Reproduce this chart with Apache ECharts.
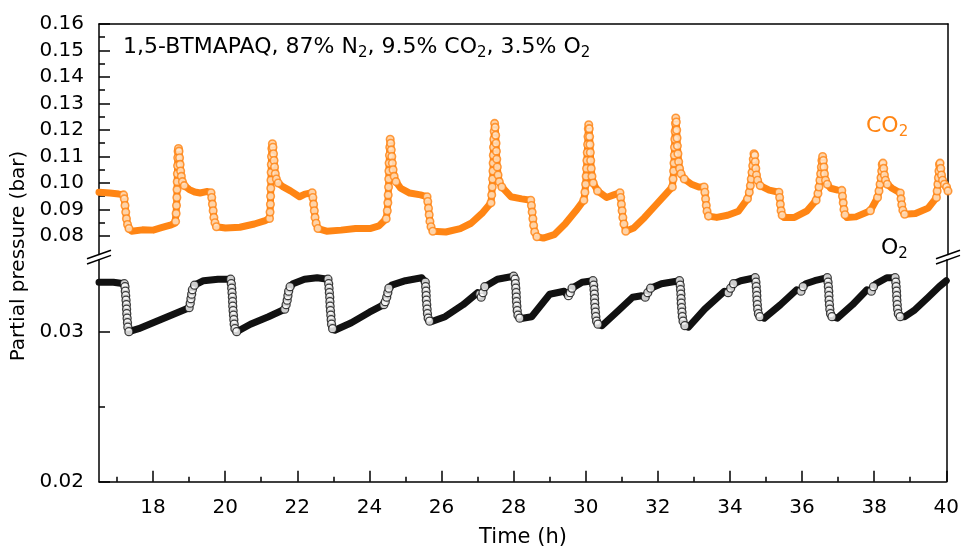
<!DOCTYPE html>
<html><head><meta charset="utf-8">
<script src="https://cdn.jsdelivr.net/npm/echarts@6/dist/echarts.min.js"></script>
<style>html,body{margin:0;padding:0;background:#fff}#c{width:962px;height:549px}</style>
</head><body><div id="c"></div>
<script>
const co2Data = [
[16.5,0.0965],[16.8,0.0962],[17.05,0.0958],[17.18,0.0955],
[17.2,0.094],[17.22,0.0915],[17.24,0.089],[17.26,0.0865],[17.29,0.0843],[17.33,0.0828],[17.4,0.0818],
[17.7,0.0823],[18.0,0.0822],[18.25,0.0832],[18.5,0.0842],[18.6,0.0848],
[18.62,0.0855],[18.635,0.0885],[18.645,0.0915],[18.655,0.0945],[18.66,0.0975],[18.665,0.1005],[18.67,0.1035],[18.675,0.1065],[18.68,0.1095],[18.69,0.112],[18.70,0.113],
[18.715,0.112],[18.73,0.1095],[18.745,0.107],[18.76,0.1045],[18.78,0.1025],[18.81,0.1005],[18.86,0.099],[19.0,0.0975],[19.15,0.0966],[19.3,0.0962],[19.5,0.0968],[19.6,0.0963],
[19.62,0.0945],[19.64,0.092],[19.66,0.0895],[19.68,0.087],[19.71,0.085],[19.75,0.0835],
[20.0,0.083],[20.4,0.0833],[20.8,0.0845],[21.1,0.0858],[21.22,0.0866],
[21.235,0.089],[21.245,0.092],[21.25,0.095],[21.255,0.098],[21.26,0.101],[21.265,0.104],[21.27,0.107],[21.275,0.11],[21.285,0.113],[21.3,0.1148],
[21.315,0.1135],[21.33,0.111],[21.345,0.1085],[21.36,0.106],[21.38,0.1035],[21.41,0.1015],[21.46,0.1],[21.6,0.0985],[21.8,0.097],[22.05,0.0948],[22.2,0.0958],[22.4,0.0963],
[22.42,0.0945],[22.44,0.092],[22.46,0.0895],[22.48,0.087],[22.51,0.0848],[22.56,0.0828],
[22.8,0.0818],[23.2,0.0822],[23.6,0.0828],[24.0,0.0828],[24.25,0.0838],[24.45,0.0865],
[24.48,0.0895],[24.495,0.0925],[24.505,0.0955],[24.515,0.0985],[24.52,0.1015],[24.525,0.1045],[24.53,0.1075],[24.54,0.1105],[24.548,0.1135],[24.56,0.1165],
[24.575,0.115],[24.59,0.1125],[24.605,0.11],[24.62,0.1075],[24.64,0.105],[24.67,0.1025],[24.72,0.1005],[24.85,0.098],[25.1,0.0962],[25.4,0.0955],[25.58,0.0948],
[25.6,0.093],[25.62,0.0905],[25.64,0.088],[25.66,0.0855],[25.69,0.0835],[25.74,0.0818],
[26.1,0.0815],[26.5,0.0828],[26.8,0.0848],[27.1,0.0885],[27.35,0.0925],
[27.37,0.0955],[27.385,0.0985],[27.395,0.1015],[27.405,0.1045],[27.41,0.1075],[27.415,0.1105],[27.42,0.1135],[27.43,0.1165],[27.44,0.1195],[27.45,0.1225],
[27.465,0.121],[27.48,0.118],[27.49,0.115],[27.5,0.112],[27.51,0.109],[27.525,0.106],[27.545,0.103],[27.58,0.1005],[27.65,0.0985],[27.9,0.0948],[28.2,0.094],[28.45,0.0935],
[28.47,0.0915],[28.49,0.089],[28.51,0.0865],[28.53,0.084],[28.56,0.0815],[28.62,0.0797],
[28.8,0.0792],[29.1,0.0805],[29.4,0.0845],[29.7,0.0895],[29.92,0.0935],
[29.95,0.0965],[29.97,0.0995],[29.985,0.1025],[29.995,0.1055],[30.005,0.1085],[30.015,0.1115],[30.025,0.1145],[30.035,0.1175],[30.045,0.1205],[30.055,0.122],
[30.07,0.1205],[30.08,0.1175],[30.09,0.1145],[30.1,0.1115],[30.11,0.1085],[30.125,0.1055],[30.145,0.1025],[30.18,0.1],[30.3,0.097],[30.55,0.0945],[30.75,0.0955],[30.92,0.0963],
[30.94,0.0945],[30.96,0.092],[30.98,0.0895],[31.0,0.087],[31.03,0.0845],[31.08,0.0818],
[31.3,0.083],[31.6,0.087],[31.9,0.0915],[32.2,0.096],[32.37,0.0985],
[32.39,0.1015],[32.405,0.1045],[32.415,0.1075],[32.425,0.1105],[32.43,0.1135],[32.44,0.1165],[32.448,0.1195],[32.455,0.1225],[32.465,0.1245],
[32.48,0.123],[32.49,0.12],[32.5,0.117],[32.51,0.114],[32.525,0.111],[32.545,0.108],[32.57,0.1055],[32.61,0.1035],[32.7,0.1015],[32.9,0.0995],[33.1,0.0985],[33.25,0.0985],
[33.27,0.0965],[33.29,0.094],[33.31,0.0915],[33.33,0.0893],[33.37,0.0875],
[33.6,0.087],[33.9,0.0878],[34.2,0.0893],[34.45,0.094],
[34.5,0.0965],[34.53,0.099],[34.555,0.1015],[34.575,0.104],[34.595,0.1065],[34.61,0.109],[34.63,0.111],
[34.65,0.1105],[34.665,0.108],[34.68,0.1055],[34.7,0.103],[34.73,0.101],[34.8,0.099],[35.05,0.0973],[35.32,0.0965],
[35.34,0.0945],[35.36,0.092],[35.38,0.0895],[35.41,0.0878],[35.46,0.087],
[35.75,0.087],[36.1,0.0895],[36.35,0.0935],
[36.4,0.096],[36.43,0.0985],[36.455,0.101],[36.475,0.1035],[36.495,0.106],[36.51,0.1085],[36.53,0.11],
[36.55,0.1085],[36.565,0.106],[36.58,0.1035],[36.61,0.101],[36.66,0.0995],[36.75,0.098],[36.95,0.0973],[37.06,0.0972],
[37.08,0.095],[37.1,0.0925],[37.12,0.09],[37.15,0.088],[37.2,0.087],
[37.45,0.0872],[37.85,0.0895],[38.05,0.0945],
[38.09,0.097],[38.12,0.0995],[38.145,0.102],[38.165,0.1045],[38.18,0.107],[38.2,0.1075],
[38.22,0.1055],[38.24,0.103],[38.27,0.101],[38.32,0.0995],[38.45,0.098],[38.68,0.0962],
[38.7,0.094],[38.72,0.0918],[38.75,0.0897],[38.8,0.0882],
[39.1,0.0885],[39.45,0.0905],[39.68,0.0945],
[39.7,0.097],[39.72,0.0995],[39.735,0.102],[39.75,0.1045],[39.765,0.107],[39.78,0.1075],
[39.8,0.1055],[39.82,0.103],[39.85,0.101],[39.9,0.0995],[39.96,0.0985],[40.0,0.097]
];
const o2Data = [
[16.5,0.0333],[16.9,0.0333],[17.2,0.0332],
[17.22,0.0330],[17.23,0.0327],[17.24,0.0324],[17.25,0.0321],[17.26,0.0318],[17.265,0.0315],[17.27,0.0312],[17.28,0.0309],[17.29,0.0306],[17.3,0.0303],[17.33,0.0300],[17.38,0.0299],
[17.6,0.0302],[18.0,0.0306],[18.5,0.0311],[19.0,0.0316],
[19.03,0.0319],[19.05,0.0322],[19.07,0.0325],[19.09,0.0328],[19.15,0.0331],[19.4,0.0334],[19.8,0.0335],[20.15,0.0335],
[20.17,0.0332],[20.18,0.0329],[20.19,0.0326],[20.2,0.0323],[20.205,0.0320],[20.21,0.0317],[20.22,0.0314],[20.23,0.0311],[20.24,0.0308],[20.25,0.0305],[20.27,0.0302],[20.32,0.0300],
[20.7,0.0305],[21.2,0.0310],[21.65,0.0315],
[21.69,0.0318],[21.72,0.0321],[21.74,0.0324],[21.76,0.0327],[21.8,0.0330],[21.88,0.0332],[22.2,0.0335],[22.55,0.0336],[22.85,0.0335],
[22.87,0.0332],[22.88,0.0329],[22.89,0.0326],[22.9,0.0323],[22.905,0.0320],[22.91,0.0317],[22.92,0.0314],[22.93,0.0311],[22.94,0.0308],[22.95,0.0305],[22.98,0.0302],[23.04,0.0301],
[23.5,0.0306],[24.0,0.0313],[24.4,0.0318],
[24.44,0.0320],[24.48,0.0323],[24.51,0.0326],[24.54,0.0329],[24.62,0.0331],[25.0,0.0334],[25.45,0.0336],
[25.55,0.0333],[25.56,0.0330],[25.57,0.0327],[25.575,0.0324],[25.58,0.0321],[25.59,0.0318],[25.6,0.0315],[25.61,0.0312],[25.63,0.0309],[25.67,0.0307],[25.75,0.0307],
[26.1,0.0310],[26.6,0.0318],[27.0,0.0326],
[27.06,0.0325],[27.1,0.0323],[27.15,0.0326],[27.2,0.0330],[27.55,0.0335],[28.0,0.0337],
[28.04,0.0335],[28.05,0.0332],[28.06,0.0329],[28.07,0.0326],[28.075,0.0323],[28.08,0.0320],[28.09,0.0317],[28.1,0.0314],[28.12,0.0311],[28.17,0.0309],[28.25,0.0309],
[28.5,0.0310],[29.0,0.0325],[29.4,0.0327],
[29.47,0.0325],[29.52,0.0324],[29.57,0.0326],[29.62,0.0329],[29.9,0.0333],[30.2,0.0334],
[30.22,0.0331],[30.23,0.0328],[30.24,0.0325],[30.245,0.0322],[30.25,0.0319],[30.26,0.0316],[30.27,0.0313],[30.28,0.0310],[30.3,0.0307],[30.34,0.0305],[30.45,0.0304],
[30.9,0.0314],[31.3,0.0323],
[31.55,0.0324],[31.65,0.0323],[31.72,0.0326],[31.8,0.0329],[32.1,0.0332],[32.6,0.0334],
[32.62,0.0331],[32.63,0.0328],[32.64,0.0325],[32.645,0.0322],[32.65,0.0319],[32.66,0.0316],[32.67,0.0313],[32.68,0.0310],[32.7,0.0307],[32.75,0.0304],[32.85,0.0303],
[33.3,0.0315],[33.85,0.0327],
[33.95,0.0326],[34.02,0.0329],[34.1,0.0332],[34.3,0.0334],[34.7,0.0336],
[34.72,0.0333],[34.73,0.0330],[34.74,0.0327],[34.745,0.0324],[34.75,0.0321],[34.76,0.0318],[34.77,0.0315],[34.79,0.0312],[34.83,0.0310],[34.95,0.0309],
[35.4,0.0318],[35.85,0.0328],
[35.97,0.0327],[36.03,0.0330],[36.1,0.0332],[36.35,0.0334],[36.7,0.0336],
[36.72,0.0333],[36.73,0.0330],[36.74,0.0327],[36.745,0.0324],[36.75,0.0321],[36.76,0.0318],[36.77,0.0315],[36.79,0.0312],[36.83,0.0310],[36.98,0.0309],
[37.4,0.0318],[37.8,0.0328],
[37.92,0.0327],[37.98,0.0330],[38.05,0.0332],[38.35,0.0336],[38.58,0.0336],
[38.6,0.0333],[38.61,0.0330],[38.62,0.0327],[38.625,0.0324],[38.63,0.0321],[38.64,0.0318],[38.65,0.0315],[38.67,0.0312],[38.72,0.0310],[38.85,0.0310],
[39.1,0.0314],[39.5,0.0323],[39.8,0.0330],[40.0,0.0334]
];
const xMajorTicks = [18,20,22,24,26,28,30,32,34,36,38,40];
const xMinorTicks = [17,19,21,23,25,27,29,31,33,35,37,39];
const upperMajorTicks = [0.08,0.09,0.10,0.11,0.12,0.13,0.14,0.15,0.16];
const upperMinorTicks = [0.085,0.095,0.105,0.115,0.125,0.135,0.145,0.155];
const lowerMajorTicks = [0.02,0.03];
const lowerMinorTicks = [0.025];

const FONT = 'DejaVu Sans';
const ORANGE = '#ff8514';
const BLACK = '#000';
const lineS = {color: BLACK, width: 1.5};

function yAx(grid, min, max, ticks, len, labels, pos) {
  return {
    type: 'value', gridIndex: grid, min: min, max: max, position: pos || 'left',
    splitLine: {show: false},
    axisLine: {show: !!labels || pos === 'right', onZero: false, lineStyle: lineS},
    axisTick: ticks ? {show: true, inside: true, length: len, customValues: ticks, lineStyle: lineS} : {show: false},
    axisLabel: labels ? {show: true, customValues: labels, formatter: v => v.toFixed(2), fontSize: 20, fontFamily: FONT, color: BLACK, margin: 15} : {show: false}
  };
}

const chart = echarts.init(document.getElementById('c'));
const subStyle = (c) => ({s: {fontSize: 15, lineHeight: 15, verticalAlign: 'bottom', fontFamily: FONT, fill: c}});
const option = {
  animation: false,
  backgroundColor: '#fff',
  grid: [
    {left: 99, right: 14, top: 24, height: 230.5},
    {left: 99, right: 14, top: 259.7, height: 222}
  ],
  xAxis: [
    {type: 'value', gridIndex: 0, min: 16.5, max: 40, position: 'top', splitLine: {show: false},
     axisLine: {show: true, onZero: false, lineStyle: lineS}, axisTick: {show: false}, axisLabel: {show: false}},
    {type: 'value', gridIndex: 1, min: 16.5, max: 40, position: 'bottom', splitLine: {show: false},
     axisLine: {show: true, onZero: false, lineStyle: lineS},
     axisTick: {show: true, inside: true, length: 11, customValues: xMajorTicks, lineStyle: lineS},
     axisLabel: {show: true, customValues: xMajorTicks, fontSize: 20, fontFamily: FONT, color: BLACK, margin: 16}},
    {type: 'value', gridIndex: 1, min: 16.5, max: 40, position: 'bottom', splitLine: {show: false},
     axisLine: {show: false}, axisTick: {show: true, inside: true, length: 5, customValues: xMinorTicks, lineStyle: lineS},
     axisLabel: {show: false}}
  ],
  yAxis: [
    yAx(0, 0.073, 0.16, upperMajorTicks, 11, upperMajorTicks),
    yAx(0, 0.073, 0.16, upperMinorTicks, 6, null),
    yAx(0, 0.073, 0.16, null, 0, null, 'right'),
    yAx(1, 0.02, 0.0348, lowerMajorTicks, 11, lowerMajorTicks),
    yAx(1, 0.02, 0.0348, lowerMinorTicks, 6, null),
    yAx(1, 0.02, 0.0348, null, 0, null, 'right')
  ],
  series: [
    {id: 'co2line', type: 'line', xAxisIndex: 0, yAxisIndex: 0, data: co2Data, showSymbol: false, symbol: 'none',
     lineStyle: {color: ORANGE, width: 7, cap: 'round', join: 'round'}, z: 2},
    {id: 'co2pts', type: 'scatter', xAxisIndex: 0, yAxisIndex: 0, data: [], symbol: 'circle', symbolSize: 7.5,
     itemStyle: {color: '#ffe6cc', borderColor: ORANGE, borderWidth: 1.6}, z: 3},
    {id: 'o2line', type: 'line', xAxisIndex: 1, yAxisIndex: 3, data: o2Data, showSymbol: false, symbol: 'none',
     lineStyle: {color: '#111', width: 7, cap: 'round', join: 'round'}, z: 2},
    {id: 'o2pts', type: 'scatter', xAxisIndex: 1, yAxisIndex: 3, data: [], symbol: 'circle', symbolSize: 8,
     itemStyle: {color: '#fff', borderColor: '#111', borderWidth: 1.3}, z: 3}
  ],
  graphic: [
    {type: 'text', x: 123, y: 47, style: {
      text: '1,5-BTMAPAQ, 87% N{s|2}, 9.5% CO{s|2}, 3.5% O{s|2}',
      fontSize: 22, fontFamily: FONT, fill: BLACK, lineHeight: 28, verticalAlign: 'middle', align: 'left',
      rich: subStyle(BLACK)}},
    {type: 'text', x: 866, y: 126, style: {
      text: 'CO{s|2}', fontSize: 22, fontFamily: FONT, fill: ORANGE, lineHeight: 28, verticalAlign: 'middle', align: 'left',
      rich: subStyle(ORANGE)}},
    {type: 'text', x: 881, y: 248, style: {
      text: 'O{s|2}', fontSize: 22, fontFamily: FONT, fill: BLACK, lineHeight: 28, verticalAlign: 'middle', align: 'left',
      rich: subStyle(BLACK)}},
    {type: 'text', x: 19, y: 256, rotation: Math.PI / 2, style: {
      text: 'Partial pressure (bar)', fontSize: 20, fontFamily: FONT, fill: BLACK, align: 'center', verticalAlign: 'middle'}},
    {type: 'text', x: 523, y: 538, style: {
      text: 'Time (h)', fontSize: 21, fontFamily: FONT, fill: BLACK, align: 'center', verticalAlign: 'middle'}},
    {type: 'line', shape: {x1: 87, y1: 258.8, x2: 111, y2: 250.2}, style: {stroke: BLACK, lineWidth: 1.5}},
    {type: 'line', shape: {x1: 87, y1: 264.0, x2: 111, y2: 255.4}, style: {stroke: BLACK, lineWidth: 1.5}},
    {type: 'line', shape: {x1: 936, y1: 258.8, x2: 960, y2: 250.2}, style: {stroke: BLACK, lineWidth: 1.5}},
    {type: 'line', shape: {x1: 936, y1: 264.0, x2: 960, y2: 255.4}, style: {stroke: BLACK, lineWidth: 1.5}}
  ]
};
chart.setOption(option);

function steepPoints(data, finder) {
  const px = data.map(p => chart.convertToPixel(finder, p));
  const seg = j => {
    if (j < 0 || j + 1 >= data.length) return false;
    const dx = Math.abs(px[j + 1][0] - px[j][0]);
    const dy = Math.abs(px[j + 1][1] - px[j][1]);
    return dy > 1.5 * dx && dy > 2;
  };
  return data.filter((p, i) => seg(i - 1) || seg(i));
}
chart.setOption({series: [
  {id: 'co2pts', data: steepPoints(co2Data, {xAxisIndex: 0, yAxisIndex: 0})},
  {id: 'o2pts', data: steepPoints(o2Data, {xAxisIndex: 1, yAxisIndex: 3})}
]});
</script>
</body></html>
